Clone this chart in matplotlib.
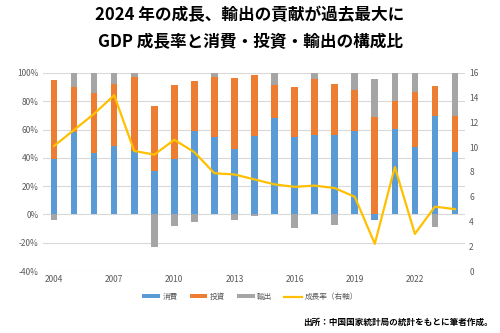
import numpy as np
import matplotlib
matplotlib.use("Agg")
import matplotlib.pyplot as plt
from matplotlib.ticker import FuncFormatter

plt.rcParams['font.family'] = ['Noto Sans CJK JP', 'DejaVu Sans']

# データ（寄与率 %、成長率 %）
years = np.arange(2004, 2025)
consumption = [39.5, 58.1, 43.5, 48.7, 44.7, 30.8, 39.5, 58.8, 54.8, 46.6, 55.3,
               68.2, 54.6, 56.2, 56.2, 58.8, -3.8, 60.2, 48.0, 69.9, 43.8]
investment = [55.8, 32.0, 42.1, 43.5, 52.5, 46.1, 51.8, 35.3, 42.6, 49.6, 43.1,
              23.1, 35.5, 39.3, 36.0, 29.4, 68.9, 20.0, 38.8, 20.9, 25.9]
exports = [-4.2, 9.9, 14.4, 7.8, 2.8, -22.8, -8.2, -5.6, 2.6, -3.8, -1.2,
           8.7, -9.4, 4.5, -7.5, 11.8, 26.9, 19.8, 13.2, -8.9, 30.4]
growth = [10.1, 11.4, 12.7, 14.2, 9.7, 9.4, 10.6, 9.6, 7.9, 7.8, 7.4,
          7.0, 6.8, 6.9, 6.7, 6.0, 2.2, 8.4, 3.0, 5.2, 5.0]

series = [("消費", consumption, "#5B9BD5"),
          ("投資", investment, "#ED7D31"),
          ("輸出", exports, "#A5A5A5")]

fig = plt.figure(figsize=(5, 3.33), dpi=100)
ax = fig.add_axes([0.086, 0.186, 0.844, 0.595])
ax2 = ax.twinx()

# Excel式の積み上げ（正は上へ、負は下へ）
pos = np.zeros(len(years))
neg = np.zeros(len(years))
handles = []
for name, vals, color in series:
    vals = np.array(vals)
    bottom = np.where(vals >= 0, pos, neg)
    b = ax.bar(years, vals, width=0.33, bottom=bottom, color=color, label=name, zorder=2)
    handles.append(b)
    pos = pos + np.where(vals >= 0, vals, 0)
    neg = neg + np.where(vals < 0, vals, 0)

line, = ax2.plot(years, growth, color="#FFC000", lw=1.6, label="成長率（右軸）", zorder=3)
handles.append(line)

ax.set_xlim(2003.45, 2024.5)
ax.set_ylim(-40, 100)
ax.set_yticks(np.arange(-40, 101, 20))
ax.yaxis.set_major_formatter(FuncFormatter(lambda v, p: f"{int(v)}%"))
ax.set_xticks(np.arange(2004, 2025, 3))
ax.grid(axis="y", color="#D9D9D9", lw=0.8, zorder=0)
ax.set_axisbelow(True)

ax2.set_ylim(0, 16)
ax2.set_yticks(np.arange(0, 17, 2))

for a in (ax, ax2):
    for s in a.spines.values():
        s.set_visible(False)
    a.tick_params(length=0, labelsize=6, labelcolor="#595959", pad=3)

fig.text(0.5, 0.955, "2024 年の成長、輸出の貢献が過去最大に", ha="center", va="center",
         fontsize=12, fontweight="bold")
fig.text(0.5, 0.873, "GDP 成長率と消費・投資・輸出の構成比", ha="center", va="center",
         fontsize=12, fontweight="bold")

fig.legend(handles=handles, loc="center", bbox_to_anchor=(0.5, 0.108), ncol=4,
           frameon=False, fontsize=5.5, handlelength=2.3, handleheight=0.45,
           columnspacing=1.6, handletextpad=0.3, labelcolor="#595959")

fig.text(0.986, 0.033, "出所：中国国家統計局の統計をもとに筆者作成。", ha="right", va="center",
         fontsize=6.2, fontweight="bold")

fig.savefig("out.png", dpi=100)
